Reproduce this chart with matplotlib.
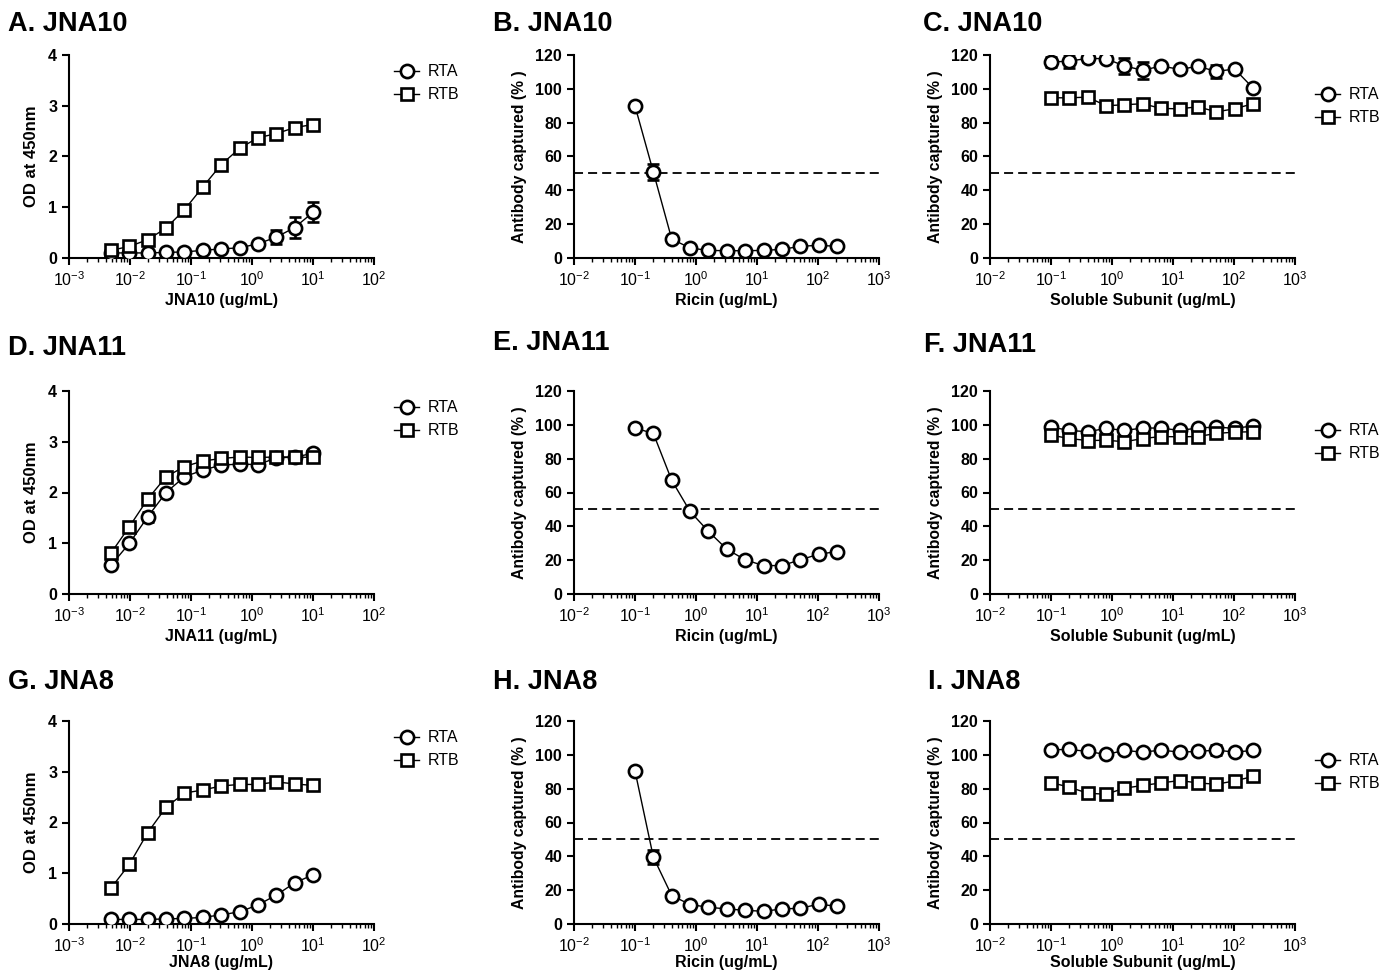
"""Binding and competition ELISA panels for JNA8, JNA10 and JNA11."""

import matplotlib

matplotlib.use("Agg")
import matplotlib.pyplot as plt
import numpy as np
from matplotlib.ticker import FixedLocator, LogLocator, NullFormatter

plt.rcParams["font.family"] = ["Liberation Sans", "DejaVu Sans"]
plt.rcParams["mathtext.fontset"] = "custom"
plt.rcParams["mathtext.rm"] = "Liberation Sans:bold"
plt.rcParams["mathtext.bf"] = "Liberation Sans:bold"

# antibody dilution series (ug/mL) and competitor series (ug/mL)
ab_conc = [0.0049, 0.0098, 0.0195, 0.039, 0.078, 0.156, 0.3125, 0.625, 1.25, 2.5, 5.0, 10.0]
comp_conc = [0.1, 0.2, 0.4, 0.8, 1.6, 3.2, 6.4, 12.8, 25.6, 51.2, 102.4, 204.8]

# column 1: OD at 450nm
jna10_rta_od = [0.10, 0.10, 0.10, 0.11, 0.12, 0.15, 0.18, 0.20, 0.28, 0.41, 0.60, 0.90]
jna10_rta_od_err = [0, 0, 0, 0, 0, 0, 0, 0, 0, 0.14, 0.20, 0.20]
jna10_rtb_od = [0.15, 0.23, 0.36, 0.59, 0.95, 1.40, 1.84, 2.16, 2.37, 2.45, 2.57, 2.63]
jna11_rta_od = [0.57, 1.00, 1.52, 2.00, 2.31, 2.44, 2.54, 2.56, 2.55, 2.68, 2.70, 2.77]
jna11_rta_od_err = [0, 0, 0.10, 0, 0, 0, 0, 0, 0, 0, 0, 0]
jna11_rtb_od = [0.81, 1.33, 1.87, 2.31, 2.51, 2.62, 2.67, 2.70, 2.69, 2.70, 2.70, 2.69]
jna8_rta_od = [0.09, 0.09, 0.09, 0.10, 0.11, 0.13, 0.18, 0.24, 0.375, 0.57, 0.81, 0.97]
jna8_rtb_od = [0.71, 1.18, 1.80, 2.30, 2.58, 2.64, 2.72, 2.75, 2.75, 2.80, 2.76, 2.73]

# column 2: captured (%) vs ricin
jna10_ricin = [89.9, 50.8, 11.2, 5.9, 4.5, 4.3, 4.3, 4.5, 5.1, 6.9, 7.5, 6.9]
jna10_ricin_err = [0, 4.5, 0, 0, 0, 0, 0, 0, 0, 0, 0, 0]
jna11_ricin = [98.1, 94.9, 67.2, 48.8, 37.0, 26.5, 20.2, 16.8, 16.8, 20.2, 23.5, 25.1]
jna8_ricin = [90.5, 39.5, 16.8, 11.5, 9.9, 8.9, 8.1, 7.5, 8.9, 9.3, 11.7, 10.5]
jna8_ricin_err = [0, 4.0, 0, 0, 0, 0, 0, 0, 0, 0, 0, 0]

# column 3: captured (%) vs soluble subunit
jna10_sub_rta = [115.8, 116.4, 118.0, 117.8, 113.5, 111.0, 113.5, 111.5, 113.3, 110.3, 111.7, 100.5]
jna10_sub_rta_err = [3.0, 4.0, 2.0, 1.5, 5.0, 5.0, 0, 0, 0, 4.0, 0, 0]
jna10_sub_rtb = [94.7, 94.7, 95.1, 90.0, 90.6, 91.2, 88.4, 88.2, 89.4, 86.4, 88.2, 91.2]
jna10_sub_rtb_err = [2.0, 2.0, 2.5, 0, 0, 1.5, 0, 0, 0, 0, 0, 0]
jna11_sub_rta = [98.7, 96.7, 95.9, 97.9, 96.7, 98.1, 98.1, 96.7, 98.1, 98.7, 97.9, 99.4]
jna11_sub_rtb = [93.9, 91.9, 90.7, 90.9, 90.0, 91.9, 93.1, 92.9, 93.1, 94.9, 95.7, 95.9]
jna8_sub_rta = [103.0, 103.2, 102.0, 100.2, 102.6, 101.6, 102.8, 101.6, 102.0, 102.8, 101.6, 102.6]
jna8_sub_rta_err = [0, 0, 0, 0, 0, 0, 0, 0, 0, 3.0, 0, 0]
jna8_sub_rtb = [83.6, 80.9, 77.3, 76.7, 80.3, 81.9, 83.4, 84.8, 83.4, 82.6, 84.6, 87.2]

titles = ["A. JNA10", "B. JNA10", "C. JNA10",
          "D. JNA11", "E. JNA11", "F. JNA11",
          "G. JNA8", "H. JNA8", "I. JNA8"]
antibodies = ["JNA10", "JNA11", "JNA8"]

FIG_W, FIG_H = 1382, 971
ROW_TOPS = [55, 391, 721]
COL_LEFTS = [69, 574, 990]
AX_W, AX_H = 305, 203
XLAB_Y = [-0.17, -0.17, -0.155]
TITLE_POS = [(8, 24), (493, 24), (923, 24),
             (8, 348), (493, 343), (924, 345),
             (8, 682), (493, 682), (928, 682)]
DASH = (0, (5, 2.8))


def _series(ax, x, y, err, marker, ms, label=None):
    ax.plot(x, y, color="black", lw=1.0, marker=marker, ms=ms, mfc="white",
            mec="black", mew=1.9, label=label, zorder=3)
    if err is None:
        return
    x = np.asarray(x)
    y = np.asarray(y)
    err = np.asarray(err, dtype=float)
    keep = err > 0
    if keep.any():
        ax.errorbar(x[keep], y[keep], yerr=err[keep], fmt="none", ecolor="black",
                    elinewidth=1.9, capsize=4.5, capthick=1.9, zorder=2)


def _style(ax, xlim, ylim, yticks, xlabel, ylabel, ylab_x, ylab_size, xlab_y):
    ax.set_xscale("log")
    ax.set_xlim(*xlim)
    ax.set_ylim(*ylim)
    for side in ("top", "right"):
        ax.spines[side].set_visible(False)
    for side in ("left", "bottom"):
        ax.spines[side].set_linewidth(1.5)
    decades = np.arange(int(np.log10(xlim[0])), int(np.log10(xlim[1])) + 1)
    ax.xaxis.set_major_locator(FixedLocator(10.0 ** decades))
    ax.set_xticklabels([r"$\mathregular{10^{%d}}$" % d for d in decades])
    ax.xaxis.set_minor_locator(LogLocator(base=10, subs=np.arange(2, 10), numticks=20))
    ax.xaxis.set_minor_formatter(NullFormatter())
    ax.set_yticks(yticks)
    ax.tick_params(axis="both", which="major", direction="out", length=5, width=1.5,
                   labelsize=11.5)
    ax.tick_params(axis="x", which="minor", direction="out", length=3, width=1.0)
    for lab in ax.get_yticklabels():
        lab.set_fontweight("bold")
    ax.set_xlabel(xlabel, fontsize=11.5, fontweight="bold")
    ax.set_ylabel(ylabel, fontsize=ylab_size, fontweight="bold")
    ax.xaxis.set_label_coords(0.5, xlab_y)
    ax.yaxis.set_label_coords(ylab_x, 0.5)


def _legend(ax, y_anchor):
    ax.legend(loc="upper left", bbox_to_anchor=(1.065, y_anchor), frameon=False,
              fontsize=11.5, handlelength=1.6, handletextpad=0.5, labelspacing=0.5,
              borderpad=0, borderaxespad=0)


fig = plt.figure(figsize=(FIG_W / 100, FIG_H / 100), dpi=100)
axes = []
for r in range(3):
    row = []
    for c in range(3):
        left = COL_LEFTS[c] / FIG_W
        bottom = 1 - (ROW_TOPS[r] + AX_H) / FIG_H
        row.append(fig.add_axes([left, bottom, AX_W / FIG_W, AX_H / FIG_H]))
    axes.append(row)

od_data = [
    (jna10_rta_od, jna10_rta_od_err, jna10_rtb_od),
    (jna11_rta_od, jna11_rta_od_err, jna11_rtb_od),
    (jna8_rta_od, None, jna8_rtb_od),
]
ricin_data = [
    (jna10_ricin, jna10_ricin_err),
    (jna11_ricin, None),
    (jna8_ricin, jna8_ricin_err),
]
sub_data = [
    (jna10_sub_rta, jna10_sub_rta_err, jna10_sub_rtb, jna10_sub_rtb_err),
    (jna11_sub_rta, None, jna11_sub_rtb, None),
    (jna8_sub_rta, jna8_sub_rta_err, jna8_sub_rtb, None),
]

for r, name in enumerate(antibodies):
    xlab_y = XLAB_Y[r]
    ax = axes[r][0]
    rta, rta_err, rtb = od_data[r]
    _series(ax, ab_conc, rta, rta_err, "o", 9.5, "RTA")
    _series(ax, ab_conc, rtb, None, "s", 8, "RTB")
    _style(ax, (1e-3, 1e2), (0, 4), [0, 1, 2, 3, 4], f"{name} (ug/mL)", "OD at 450nm",
           -0.10, 12, xlab_y)
    _legend(ax, 0.955)

    ax = axes[r][1]
    vals, err = ricin_data[r]
    _series(ax, comp_conc, vals, err, "o", 9.5)
    ax.axhline(50, color="black", lw=1.3, ls=DASH, zorder=1)
    _style(ax, (1e-2, 1e3), (0, 120), list(range(0, 121, 20)), "Ricin (ug/mL)",
           "Antibody captured (% )", -0.154, 11.3, xlab_y)

    ax = axes[r][2]
    rta, rta_err, rtb, rtb_err = sub_data[r]
    _series(ax, comp_conc, rta, rta_err, "o", 9.5, "RTA")
    _series(ax, comp_conc, rtb, rtb_err, "s", 8, "RTB")
    ax.axhline(50, color="black", lw=1.3, ls=DASH, zorder=1)
    _style(ax, (1e-2, 1e3), (0, 120), list(range(0, 121, 20)), "Soluble Subunit (ug/mL)",
           "Antibody captured (% )", -0.154, 11.3, xlab_y)
    _legend(ax, 0.84)

for text, (x, y) in zip(titles, TITLE_POS):
    fig.text(x / FIG_W, 1 - y / FIG_H, text, fontsize=19.5, fontweight="bold",
             ha="left", va="center")

fig.savefig("out.png", dpi=100)
